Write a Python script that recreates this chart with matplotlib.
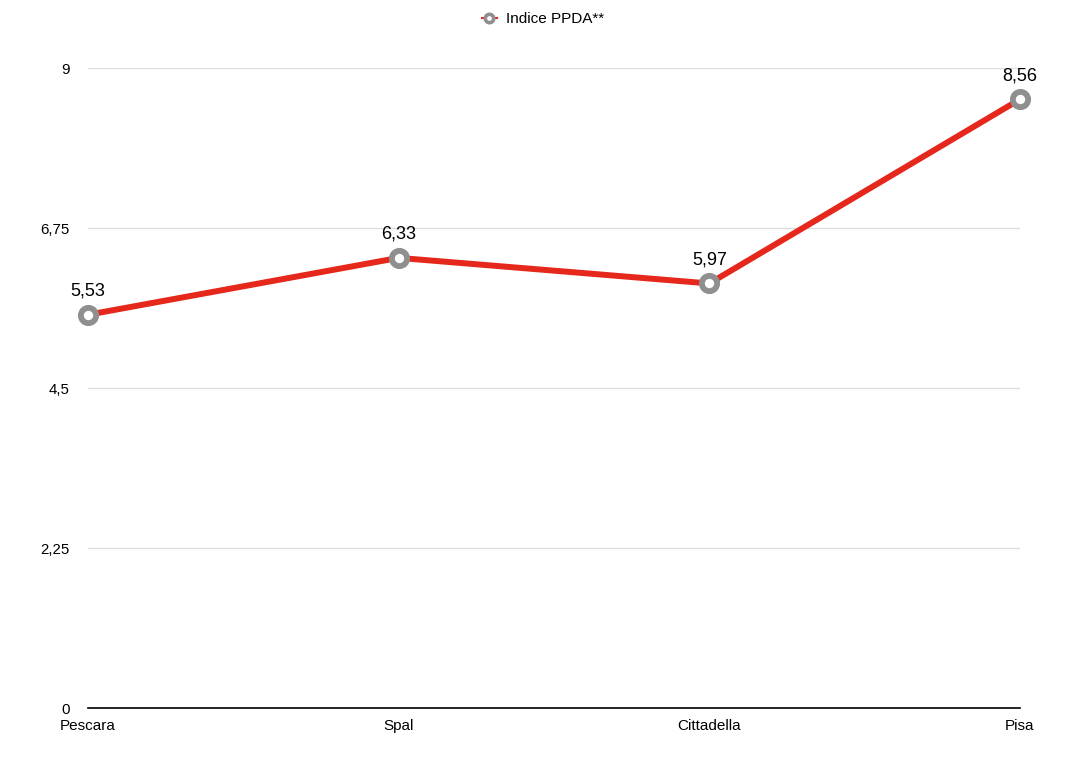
import matplotlib.pyplot as plt

teams = ['Pescara', 'Spal', 'Cittadella', 'Pisa']
ppda = [5.53, 6.33, 5.97, 8.56]
y_ticks = [0, 2.25, 4.5, 6.75, 9]
y_tick_labels = ['0', '2,25', '4,5', '6,75', '9']

plt.rcParams['font.family'] = ['Liberation Sans', 'DejaVu Sans']

fig = plt.figure(figsize=(10.8, 7.79), dpi=100)
ax = fig.add_axes([88 / 1080, 71 / 779, 932 / 1080, 640 / 779])

x = list(range(len(teams)))
ax.plot(x, ppda, color='#e5281b', linewidth=4.3, marker='o', markersize=11,
        markeredgewidth=4.2, markeredgecolor='#8f8f8f', markerfacecolor='white',
        label='Indice PPDA**', zorder=3, clip_on=False)

# value labels above points
for xi, v in zip(x, ppda):
    ax.annotate(f'{v:.2f}'.replace('.', ','), (xi, v), xytext=(0, 11),
                textcoords='offset points', ha='center', va='bottom', fontsize=13)

ax.set_xlim(0, 3)
ax.set_ylim(0, 9)
ax.set_yticks(y_ticks)
ax.set_yticklabels(y_tick_labels, fontsize=10.8)
ax.set_xticks(x)
ax.set_xticklabels(teams, fontsize=11)
ax.tick_params(axis='both', length=0)
ax.tick_params(axis='y', pad=13)
ax.tick_params(axis='x', pad=8)

ax.grid(axis='y', color='#dcdcdc', linewidth=0.9)
ax.set_axisbelow(True)
for s in ['top', 'right', 'left']:
    ax.spines[s].set_visible(False)
ax.spines['bottom'].set_color('black')
ax.spines['bottom'].set_linewidth(1.2)
ax.spines['bottom'].set_zorder(4)

leg = fig.legend(loc='center', bbox_to_anchor=(543 / 1080, 1 - 19 / 779), frameon=False,
                 fontsize=11, markerscale=0.55, handlelength=1.0, handletextpad=0.6)
for h in leg.legend_handles:
    h.set_linewidth(1.5)
    h.set_markeredgewidth(2.6)

fig.savefig('out.png', dpi=100)
